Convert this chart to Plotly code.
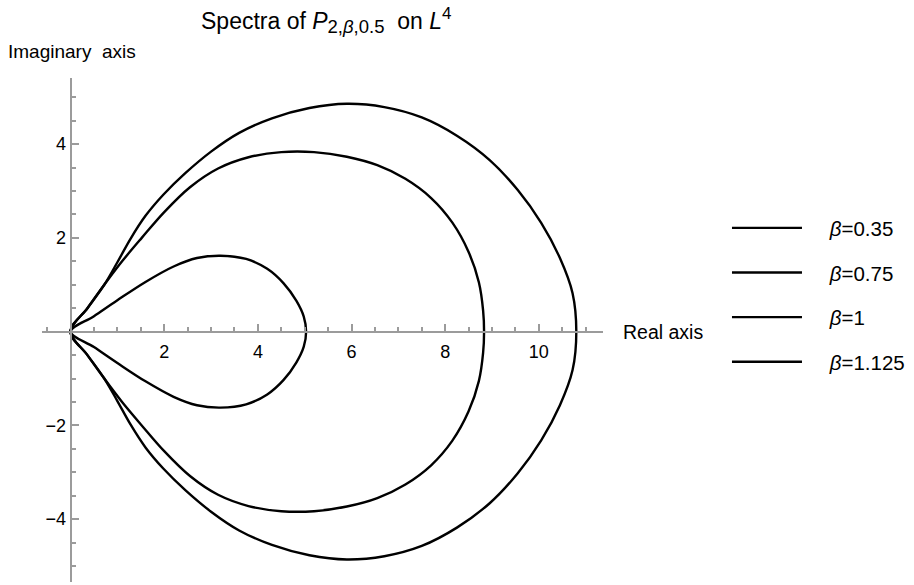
import plotly.graph_objects as go

# Legend labels for the four parameter values
beta_labels = ["0.35", "0.75", "1", "1.125"]

# Upper half of each spectral boundary curve (real part, imaginary part),
# running from the origin to the point where the curve meets the real axis.
# The spectra are symmetric about the real axis.
re_b035 = [0.0]
im_b035 = [0.0]

re_b075 = [0.0, 0.5, 1.0, 1.6, 2.2, 2.7, 3.2, 3.75, 4.2, 4.55, 4.82, 4.98, 5.03]
im_b075 = [0.0, 0.33, 0.67, 1.06, 1.39, 1.57, 1.62, 1.55, 1.34, 1.03, 0.66, 0.32, 0.0]

re_b1 = [0.0, 0.36, 0.72, 1.10, 1.52, 2.0, 2.55, 3.15, 3.8, 4.5, 5.2, 5.9, 6.55,
         7.15, 7.7, 8.15, 8.5, 8.72, 8.81, 8.83]
im_b1 = [0.0, 0.5, 1.0, 1.5, 2.0, 2.55, 3.08, 3.48, 3.72, 3.83, 3.83, 3.73, 3.55,
         3.26, 2.85, 2.33, 1.70, 1.05, 0.45, 0.0]

re_b1125 = [0.0, 0.36, 0.72, 1.0, 1.28, 1.6, 1.98, 2.45, 3.0, 3.6, 4.3, 5.1, 5.9,
            6.7, 7.5, 8.25, 8.95, 9.55, 10.05, 10.45, 10.72, 10.80]
im_b1125 = [0.0, 0.5, 1.0, 1.48, 1.98, 2.47, 2.92, 3.38, 3.84, 4.24, 4.55, 4.77, 4.86,
            4.79, 4.57, 4.18, 3.66, 3.02, 2.32, 1.57, 0.82, 0.0]

curves = [(re_b035, im_b035), (re_b075, im_b075), (re_b1, im_b1), (re_b1125, im_b1125)]

# Axis ticks
x_major = [2, 4, 6, 8, 10]
y_major = [-4, -2, 2, 4]
x_minor = [v / 2 for v in range(-1, 23)]
y_minor = [v / 2 for v in range(-10, 11)]

x_range = [-0.61, 11.37]
y_range = [-5.34, 5.41]


def closed_curve(re, im):
    """Join the upper half with its mirror image below the real axis."""
    xs = list(re) + list(reversed(re))[1:]
    ys = list(im) + [-v for v in reversed(im)][1:]
    return xs, ys


fig = go.Figure()
for i, (label, (re, im)) in enumerate(zip(beta_labels, curves)):
    xs, ys = closed_curve(re, im)
    fig.add_trace(go.Scatter(
        x=xs, y=ys, mode="lines",
        line=dict(color="black", width=2.4, shape="spline", smoothing=1.0),
        name="\u00a0\u00a0\u00a0\u00a0<i>β</i>=" + label,
        legendgroup=f"g{i}",
        hoverinfo="skip",
    ))

axis_color = "#9b9b9b"
font_family = "Liberation Sans, Arial, sans-serif"

fig.update_layout(
    width=914, height=585,
    margin=dict(l=42, r=311, t=78, b=3),
    paper_bgcolor="white", plot_bgcolor="white",
    font=dict(family=font_family, size=18, color="black"),
    showlegend=True,
    legend=dict(
        x=1.221, y=0.742, xanchor="left", yanchor="top",
        font=dict(size=20.5, family=font_family),
        itemwidth=70, tracegroupgap=15,
        bgcolor="rgba(0,0,0,0)",
    ),
    xaxis=dict(
        range=x_range, anchor="free", position=(0 - y_range[0]) / (y_range[1] - y_range[0]),
        showgrid=False, zeroline=False,
        showline=True, linecolor=axis_color, linewidth=2,
        tickmode="array", tickvals=x_major,
        ticks="inside", ticklen=7, tickwidth=1.5, tickcolor=axis_color,
        ticklabelstandoff=4,
        minor=dict(tickmode="array", tickvals=x_minor, ticks="inside",
                   ticklen=4, tickwidth=1.5, tickcolor=axis_color),
        tickfont=dict(size=18),
    ),
    yaxis=dict(
        range=y_range, anchor="free", position=(0 - x_range[0]) / (x_range[1] - x_range[0]),
        showgrid=False, zeroline=False,
        showline=True, linecolor=axis_color, linewidth=2,
        tickmode="array", tickvals=y_major,
        ticks="inside", ticklen=7, tickwidth=1.5, tickcolor=axis_color,
        minor=dict(tickmode="array", tickvals=y_minor, ticks="inside",
                   ticklen=4, tickwidth=1.5, tickcolor=axis_color),
        tickfont=dict(size=18),
    ),
    annotations=[
        dict(text="Spectra of <i>P</i><sub><span style='font-size:18.5px'>2,<i>β</i>,0.5</span></sub>"
                  "  on <i>L</i><sup><span style='font-size:17px'>4</span></sup>",
             xref="paper", yref="paper", x=0.279, y=1.115,
             xanchor="left", yanchor="middle", showarrow=False,
             font=dict(size=23)),
        dict(text="Imaginary  axis", xref="paper", yref="paper",
             x=-0.064, y=1.0516, xanchor="left", yanchor="middle",
             showarrow=False, font=dict(size=19)),
        dict(text="Real axis", xref="paper", yref="paper",
             x=1.032, y=(0 - y_range[0]) / (y_range[1] - y_range[0]),
             xanchor="left", yanchor="middle", showarrow=False,
             font=dict(size=19.5)),
    ],
)

fig.write_html("out.html")
